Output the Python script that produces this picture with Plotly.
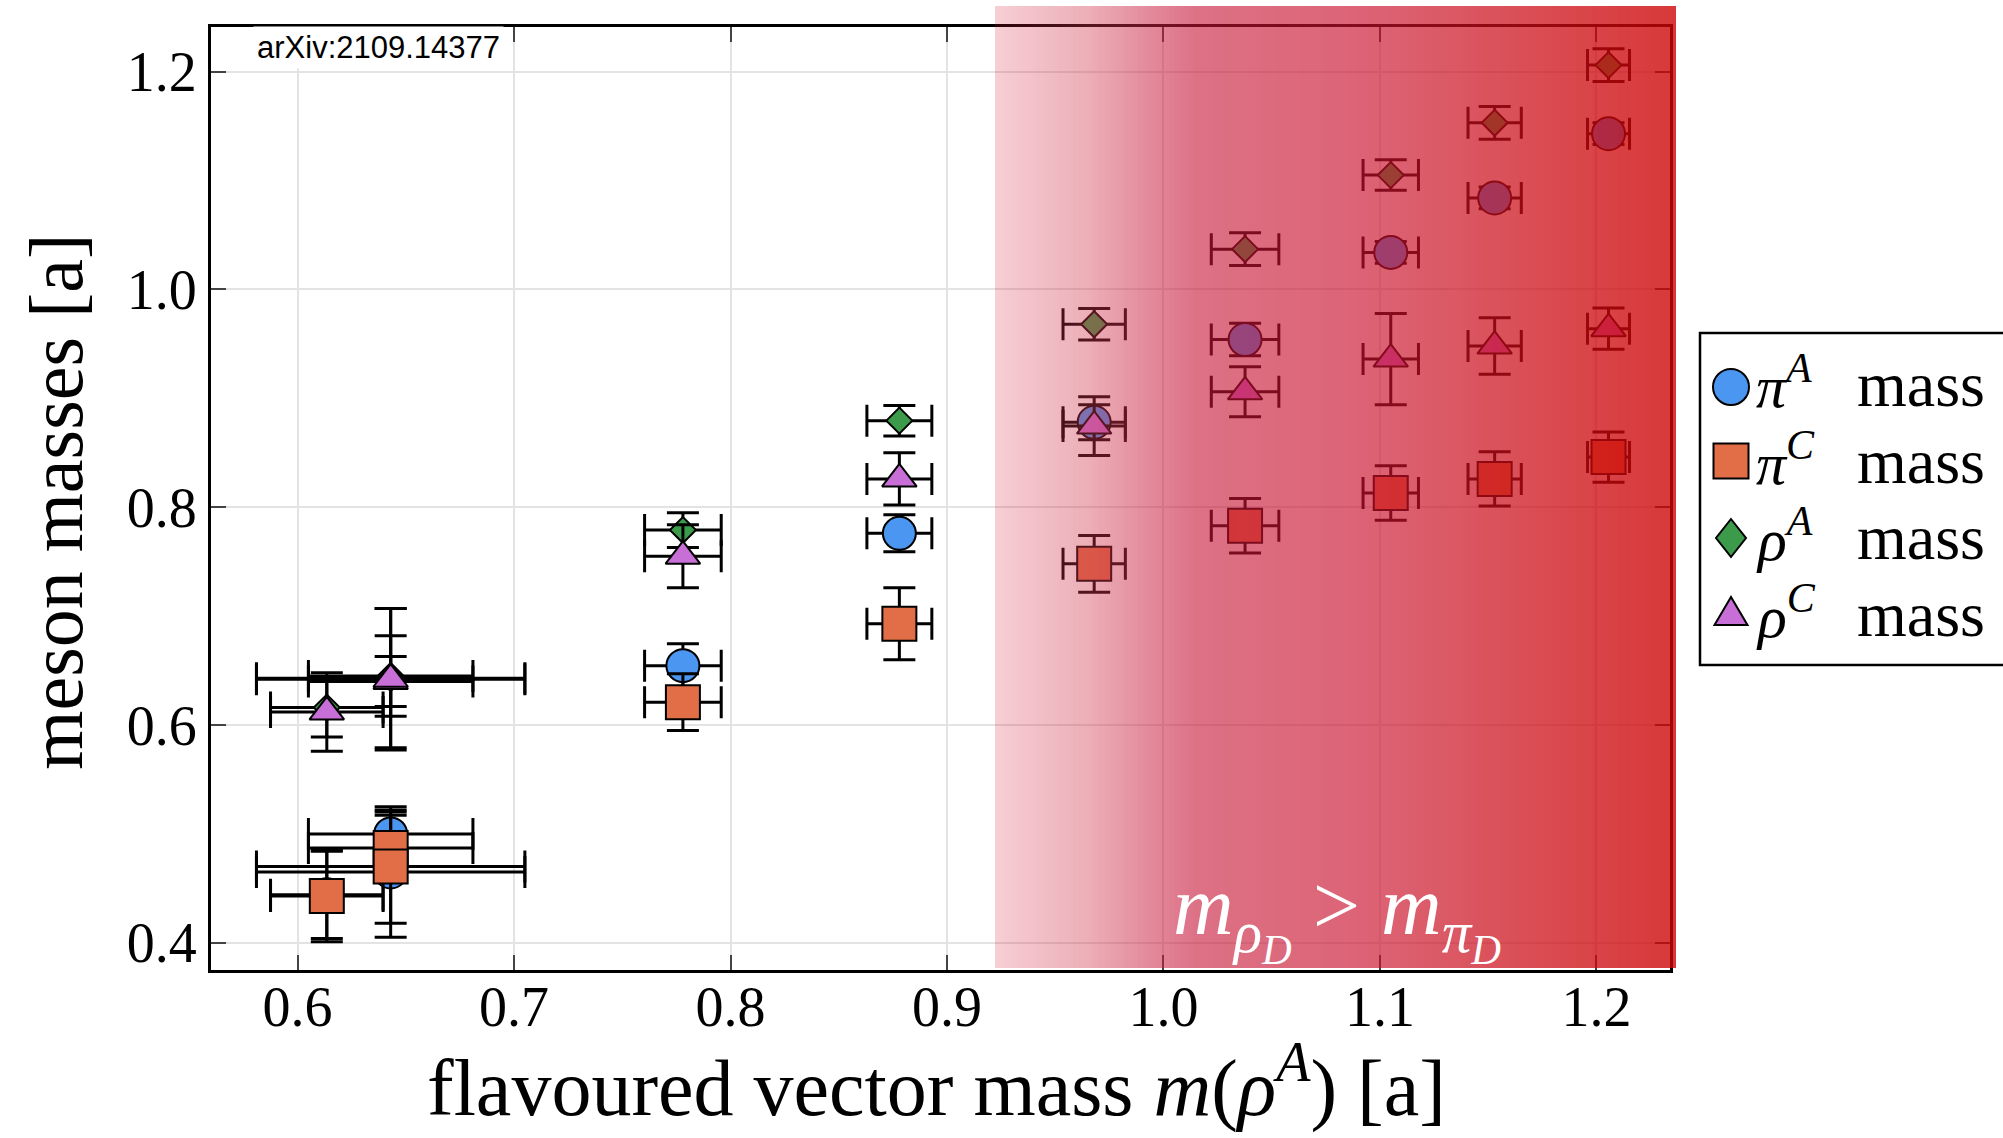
import plotly.graph_objects as go

# ---------------- data ----------------
m_rhoA = [0.6135, 0.643, 0.643, 0.778, 0.878, 0.968, 1.0377, 1.105, 1.153, 1.2056]
m_rhoA_err = [0.026, 0.038, 0.062, 0.0177, 0.015, 0.0144, 0.0156, 0.0128, 0.0123, 0.0097]

piA_mass = [0.444, 0.500, 0.465, 0.6545, 0.776, 0.878, 0.954, 1.034, 1.084, 1.143]
piA_err = [0.040, 0.020, 0.060, 0.020, 0.017, 0.016, 0.015, 0.010, 0.010, 0.010]

piC_mass = [0.443, 0.487, 0.470, 0.621, 0.693, 0.748, 0.783, 0.813, 0.826, 0.846]
piC_err = [0.042, 0.030, 0.052, 0.026, 0.033, 0.026, 0.025, 0.025, 0.025, 0.023]

rhoA_mass = [0.616, 0.645, 0.643, 0.779, 0.8795, 0.968, 1.037, 1.105, 1.153, 1.206]
rhoA_err = [0.027, 0.037, 0.064, 0.016, 0.014, 0.0145, 0.015, 0.014, 0.015, 0.015]

rhoC_mass = [0.612, 0.640, 0.642, 0.755, 0.826, 0.8745, 0.906, 0.936, 0.948, 0.964]
rhoC_err = [0.036, 0.023, 0.065, 0.029, 0.024, 0.027, 0.023, 0.042, 0.026, 0.019]

series_labels = [
    "<i>π</i><sup><i>A</i></sup>",
    "<i>π</i><sup><i>C</i></sup>",
    "<i>ρ</i><sup><i>A</i></sup>",
    "<i>ρ</i><sup><i>C</i></sup>",
]
series_suffix = "mass"
x_ticks = [0.6, 0.7, 0.8, 0.9, 1.0, 1.1, 1.2]
y_ticks = [0.4, 0.6, 0.8, 1.0, 1.2]

# threshold where m_rho > m_pi region shading starts
shade_start = 0.922
# gradient stops of the shaded region: position, resulting colour over white, opacity
shade_x = [0.922, 0.965, 0.990, 1.015, 1.100, 1.160, 1.240]
shade_bg_r = [246, 236, 228, 221, 220, 218, 216]
shade_bg_g = [207, 175, 142, 113, 98, 80, 55]
shade_bg_b = [212, 184, 159, 134, 115, 88, 55]
shade_a = [0.20, 0.40, 0.52, 0.60, 0.66, 0.72, 0.80]

# ---------------- layout constants ----------------
W, H = 2003, 1138
ML, MR, MT, MB = 211, 333, 27, 168
PW = W - ML - MR
PH = H - MT - MB
X_RANGE = [0.560, 1.234]
Y_RANGE = [0.375, 1.241]

SERIF = "Liberation Serif, Times New Roman, serif"

colors = ["#4b96f0", "#e16e46", "#3c9b4b", "#c86ed7"]
symbols = ["circle", "square", "diamond", "triangle-up"]
sizes = [33, 34, 20, 30]
ys = [piA_mass, piC_mass, rhoA_mass, rhoC_mass]
yerrs = [piA_err, piC_err, rhoA_err, rhoC_err]


def fx(px):
    return (px - ML) / PW


def fy(py):
    return (H - MB - py) / PH


fig = go.Figure()
for lab, yv, ye, col, sym, sz in zip(series_labels, ys, yerrs, colors, symbols, sizes):
    fig.add_trace(go.Scatter(
        x=m_rhoA, y=yv, mode="markers", name=f"{lab} {series_suffix}",
        marker=dict(symbol=sym, size=sz, color=col, line=dict(color="black", width=2)),
        error_x=dict(type="data", array=m_rhoA_err, color="black", thickness=3, width=16),
        error_y=dict(type="data", array=ye, color="black", thickness=3, width=16),
        cliponaxis=False, showlegend=False,
    ))


def interp(v, xs, vals):
    if v <= xs[0]:
        return vals[0]
    for i in range(1, len(xs)):
        if v <= xs[i]:
            t = (v - xs[i - 1]) / (xs[i] - xs[i - 1])
            return vals[i - 1] + t * (vals[i] - vals[i - 1])
    return vals[-1]


def overlay_rgb(target, a):
    # colour that, drawn with opacity a over white, gives the target colour
    return max(0.0, min(255.0, (target - (1 - a) * 255) / a))


# gradient shading as pixel-aligned strips
shapes = []
span = X_RANGE[1] - X_RANGE[0]
p_start = round((shade_start - X_RANGE[0]) / span * PW)
p_end = PW + 6
step = 2
for p in range(p_start, p_end, step):
    p1 = min(p + step, p_end)
    xv = X_RANGE[0] + (p + step / 2) / PW * span
    a = interp(xv, shade_x, shade_a)
    r = overlay_rgb(interp(xv, shade_x, shade_bg_r), a)
    g = overlay_rgb(interp(xv, shade_x, shade_bg_g), a)
    b = overlay_rgb(interp(xv, shade_x, shade_bg_b), a)
    shapes.append(dict(
        type="rect", xref="paper", yref="paper",
        x0=p / PW, x1=p1 / PW, y0=0.002, y1=1 + 21 / PH,
        fillcolor=f"rgba({r:.0f},{g:.0f},{b:.0f},{a:.3f})",
        line=dict(width=0), layer="above",
    ))

# ---------------- legend (drawn to match the large symbols of the reference) ----------------
LEG_LEFT, LEG_RIGHT, LEG_TOP, LEG_BOTTOM = 1700, 2020, 333, 665
leg_sym_x = 1731
leg_rows = [387, 461, 538, 613]
leg_base = [407, 484, 560, 637]
LEG_FONT = 60

shapes.append(dict(type="rect", xref="paper", yref="paper",
                   x0=fx(LEG_LEFT), x1=fx(LEG_RIGHT), y0=fy(LEG_BOTTOM), y1=fy(LEG_TOP),
                   fillcolor="white", line=dict(color="black", width=2.5), layer="above"))


def sym_shape(sym, cx, cy, col):
    base = dict(xref="paper", yref="paper", fillcolor=col,
                line=dict(color="black", width=2), layer="above")
    if sym == "circle":
        return dict(type="circle", x0=fx(cx - 18), x1=fx(cx + 18),
                    y0=fy(cy + 18), y1=fy(cy - 18), **base)
    if sym == "square":
        return dict(type="rect", x0=fx(cx - 17.5), x1=fx(cx + 17.5),
                    y0=fy(cy + 17.5), y1=fy(cy - 17.5), **base)
    if sym == "diamond":
        pts = [(cx, cy - 19), (cx + 15, cy), (cx, cy + 19), (cx - 15, cy)]
    else:
        pts = [(cx - 16.5, cy + 12), (cx + 16.5, cy + 12), (cx, cy - 16)]
    path = "M" + " L".join(f"{fx(px):.6f},{fy(py):.6f}" for px, py in pts) + " Z"
    return dict(type="path", path=path, **base)


for sym, col, cy in zip(symbols, colors, leg_rows):
    shapes.append(sym_shape(sym, leg_sym_x, cy, col))

annotations = [
    dict(text="arXiv:2109.14377", xref="paper", yref="paper",
         x=0.029, y=0.978, xanchor="left", yanchor="middle", showarrow=False,
         font=dict(family="Liberation Sans, Arial, sans-serif", size=31, color="black"),
         bgcolor="white", borderpad=3),
    dict(text="flavoured vector mass <i>m</i>(<i>ρ</i><sup><i>A</i></sup>) [a]",
         xref="paper", yref="paper", x=0.497, y=-0.119, xanchor="center", yanchor="middle",
         showarrow=False, font=dict(family=SERIF, size=80, color="black")),
    dict(text="meson masses [a]", xref="paper", yref="paper", x=-0.106, y=0.497,
         xanchor="center", yanchor="middle", textangle=-90, showarrow=False,
         font=dict(family=SERIF, size=76, color="black")),
    dict(text="<i>m</i><sub><i>ρ</i><sub><i>D</i></sub></sub> &gt; <i>m</i><sub><i>π</i><sub><i>D</i></sub></sub>",
         xref="x", yref="y", x=1.080, y=0.425, xanchor="center", yanchor="middle",
         showarrow=False, font=dict(family=SERIF, size=84, color="white")),
]

for lab, yb in zip(series_labels, leg_base):
    bottom = yb + 0.216 * LEG_FONT + 2
    annotations.append(dict(text=lab, xref="paper", yref="paper", x=fx(1754), y=fy(bottom),
                            xanchor="left", yanchor="bottom", showarrow=False,
                            font=dict(family=SERIF, size=LEG_FONT, color="black")))
    annotations.append(dict(text=series_suffix, xref="paper", yref="paper", x=fx(1855), y=fy(bottom),
                            xanchor="left", yanchor="bottom", showarrow=False,
                            font=dict(family=SERIF, size=LEG_FONT + 4, color="black")))

axis_common = dict(
    showgrid=True, gridcolor="#e3e3e3", gridwidth=1.5,
    showline=True, linecolor="black", linewidth=3, mirror="ticks",
    ticks="inside", ticklen=15, tickwidth=2, tickcolor="#444",
    tickfont=dict(family=SERIF, size=56, color="black"),
    zeroline=False, tickformat=".1f",
)

fig.update_layout(
    width=W, height=H,
    margin=dict(l=ML, r=MR, t=MT, b=MB, autoexpand=False),
    paper_bgcolor="white", plot_bgcolor="white",
    showlegend=False,
    xaxis=dict(range=X_RANGE, tickvals=x_ticks, ticklabelstandoff=-14, **axis_common),
    yaxis=dict(range=Y_RANGE, tickvals=y_ticks, ticklabelstandoff=0, **axis_common),
    shapes=shapes,
    annotations=annotations,
)

fig.write_html("out.html")
